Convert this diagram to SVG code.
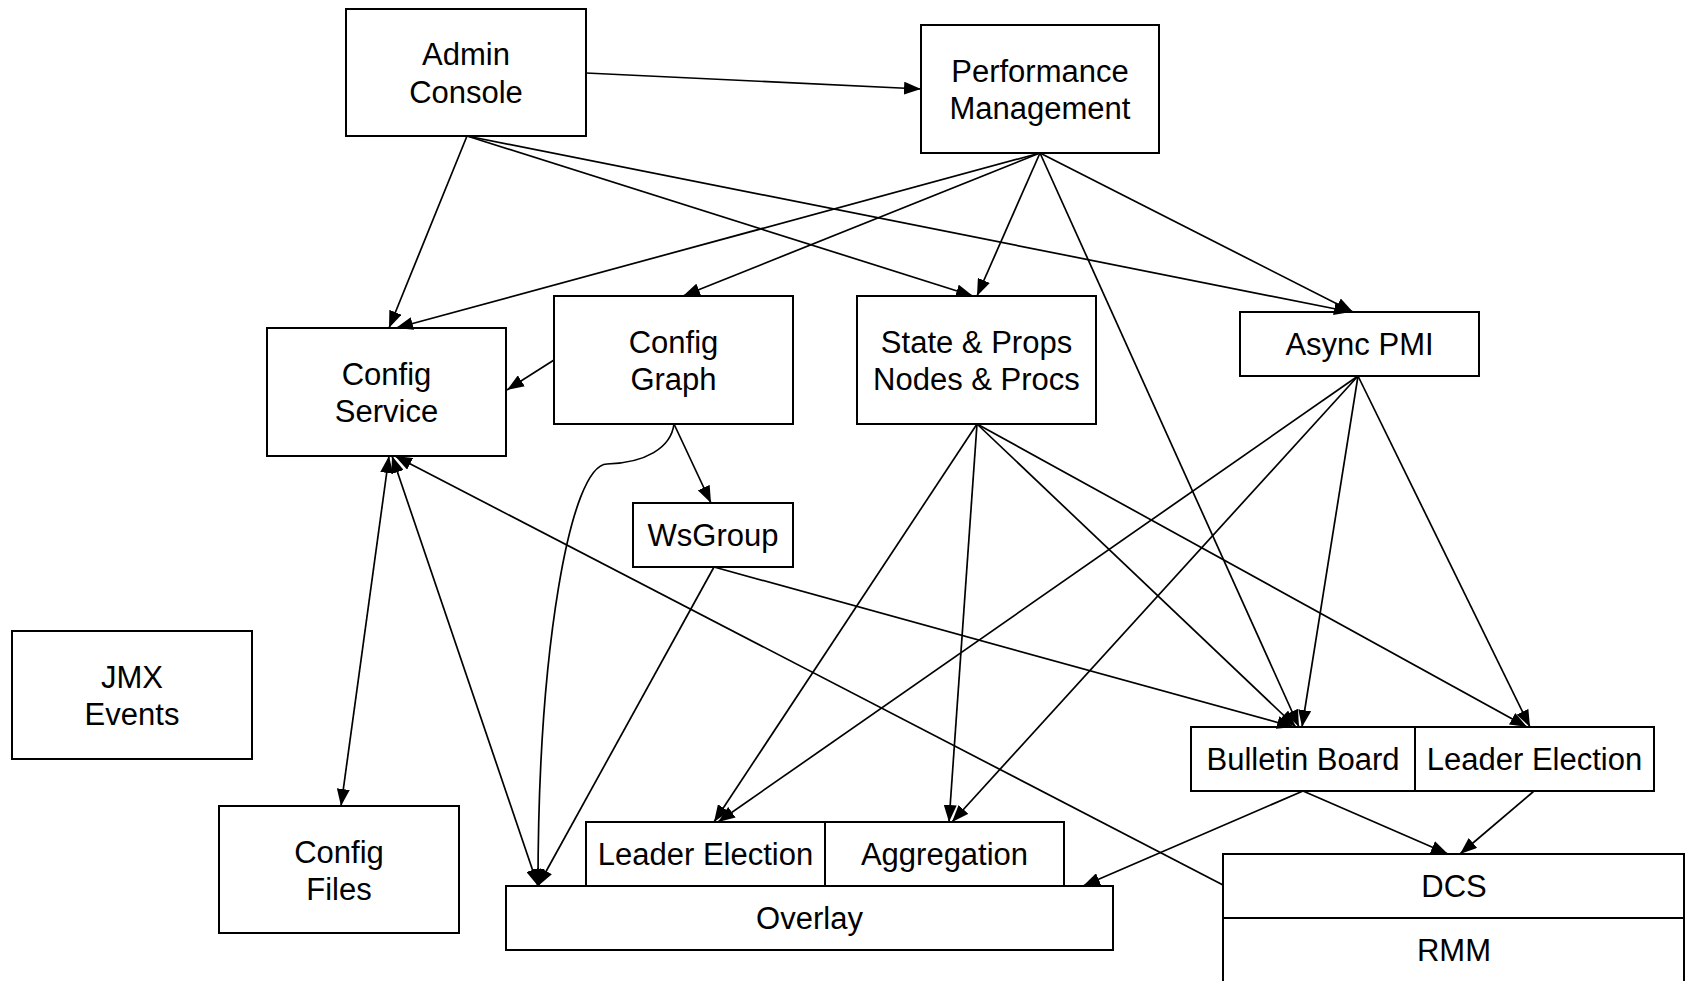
<svg xmlns="http://www.w3.org/2000/svg" width="1686" height="981" viewBox="0 0 1686 981">
  <defs>
    <marker id="arrow" viewBox="0 0 17 13" refX="17" refY="6.5" markerWidth="17" markerHeight="13" markerUnits="userSpaceOnUse" orient="auto">
      <path d="M0,0 L17,6.5 L0,13 z" fill="#000"/>
    </marker>
    <marker id="arrow-start" viewBox="0 0 17 13" refX="0" refY="6.5" markerWidth="17" markerHeight="13" markerUnits="userSpaceOnUse" orient="auto">
      <path d="M17,0 L0,6.5 L17,13 z" fill="#000"/>
    </marker>
  </defs>
  <style>
    .box { fill: #fff; stroke: #000; stroke-width: 2; }
    .lbl { font-family: "Liberation Sans", Arial, sans-serif; font-size: 31px; fill: #000; text-anchor: middle; }
    .edge { fill: none; stroke: #000; stroke-width: 1.7; marker-end: url(#arrow); }
    .both { marker-start: url(#arrow-start); }
  </style>

  <rect width="1686" height="981" fill="#fff"/>

  <!-- nodes -->
  <g id="admin-console">
    <rect class="box" x="346" y="9" width="240" height="127"/>
    <text class="lbl" x="466" y="65">Admin</text>
    <text class="lbl" x="466" y="102.5">Console</text>
  </g>
  <g id="performance-management">
    <rect class="box" x="921" y="25" width="238" height="128"/>
    <text class="lbl" x="1040" y="81.5">Performance</text>
    <text class="lbl" x="1040" y="119">Management</text>
  </g>
  <g id="config-service">
    <rect class="box" x="267" y="328" width="239" height="128"/>
    <text class="lbl" x="386.5" y="384.5">Config</text>
    <text class="lbl" x="386.5" y="422">Service</text>
  </g>
  <g id="config-graph">
    <rect class="box" x="554" y="296" width="239" height="128"/>
    <text class="lbl" x="673.5" y="352.5">Config</text>
    <text class="lbl" x="673.5" y="390">Graph</text>
  </g>
  <g id="state-props">
    <rect class="box" x="857" y="296" width="239" height="128"/>
    <text class="lbl" x="976.5" y="352.5">State &amp; Props</text>
    <text class="lbl" x="976.5" y="390">Nodes &amp; Procs</text>
  </g>
  <g id="async-pmi">
    <rect class="box" x="1240" y="312" width="239" height="64"/>
    <text class="lbl" x="1359.5" y="355">Async PMI</text>
  </g>
  <g id="wsgroup">
    <rect class="box" x="633" y="503" width="160" height="64"/>
    <text class="lbl" x="713" y="546">WsGroup</text>
  </g>
  <g id="jmx-events">
    <rect class="box" x="12" y="631" width="240" height="128"/>
    <text class="lbl" x="132" y="687.5">JMX</text>
    <text class="lbl" x="132" y="725">Events</text>
  </g>
  <g id="config-files">
    <rect class="box" x="219" y="806" width="240" height="127"/>
    <text class="lbl" x="339" y="862.5">Config</text>
    <text class="lbl" x="339" y="900">Files</text>
  </g>
  <g id="overlay-stack">
    <g id="leader-election-overlay">
      <rect class="box" x="586" y="822" width="239" height="64"/>
      <text class="lbl" x="705.5" y="865">Leader Election</text>
    </g>
    <g id="aggregation">
      <rect class="box" x="825" y="822" width="239" height="64"/>
      <text class="lbl" x="944.5" y="865">Aggregation</text>
    </g>
    <g id="overlay">
      <rect class="box" x="506" y="886" width="607" height="64"/>
      <text class="lbl" x="809.5" y="929">Overlay</text>
    </g>
  </g>
  <g id="dcs-stack">
    <g id="bulletin-board">
      <rect class="box" x="1191" y="727" width="224" height="64"/>
      <text class="lbl" x="1303" y="770">Bulletin Board</text>
    </g>
    <g id="leader-election-dcs">
      <rect class="box" x="1415" y="727" width="239" height="64"/>
      <text class="lbl" x="1534.5" y="770">Leader Election</text>
    </g>
    <g id="dcs">
      <rect class="box" x="1223" y="854" width="461" height="64"/>
      <text class="lbl" x="1454" y="897">DCS</text>
    </g>
    <g id="rmm">
      <rect class="box" x="1223" y="918" width="461" height="64"/>
      <text class="lbl" x="1454" y="961">RMM</text>
    </g>
  </g>

  <!-- connectors -->
  <g id="connectors">
    <!-- from Admin Console -->
    <line class="edge" x1="586" y1="73" x2="921" y2="89"/>
    <line class="edge" x1="467" y1="136" x2="389" y2="328"/>
    <line class="edge" x1="467" y1="136" x2="973" y2="296"/>
    <line class="edge" x1="467" y1="136" x2="1351" y2="312"/>
    <!-- from Performance Management -->
    <line class="edge" x1="1040" y1="153" x2="396" y2="328"/>
    <line class="edge" x1="1040" y1="153" x2="683" y2="296"/>
    <line class="edge" x1="1040" y1="153" x2="977" y2="296"/>
    <line class="edge" x1="1040" y1="153" x2="1299" y2="727"/>
    <line class="edge" x1="1040" y1="153" x2="1353" y2="312"/>
    <!-- from Config Graph -->
    <line class="edge" x1="554" y1="360" x2="507" y2="390"/>
    <line class="edge" x1="674" y1="424" x2="711" y2="503"/>
    <path class="edge" d="M674,424 C671,448 645,463 607,464 C570,465 538,650 538,886"/>
    <!-- from WsGroup -->
    <line class="edge" x1="714" y1="567" x2="538" y2="886"/>
    <line class="edge" x1="714" y1="567" x2="1294" y2="727"/>
    <!-- Config Service to Config Files and Overlay -->
    <line class="edge both" x1="389" y1="456" x2="341" y2="806"/>
    <line class="edge both" x1="392" y1="456" x2="538" y2="886"/>
    <line class="edge" x1="1223" y1="885" x2="395" y2="456"/>
    <!-- from State & Props -->
    <line class="edge" x1="977" y1="424" x2="714" y2="822"/>
    <line class="edge" x1="977" y1="424" x2="949" y2="822"/>
    <line class="edge" x1="977" y1="424" x2="1296" y2="727"/>
    <line class="edge" x1="977" y1="424" x2="1527" y2="727"/>
    <!-- from Async PMI -->
    <line class="edge" x1="1358" y1="376" x2="718" y2="822"/>
    <line class="edge" x1="1358" y1="376" x2="952" y2="822"/>
    <line class="edge" x1="1358" y1="376" x2="1302" y2="727"/>
    <line class="edge" x1="1358" y1="376" x2="1530" y2="727"/>
    <!-- from Bulletin Board and Leader Election -->
    <line class="edge" x1="1303" y1="791" x2="1083" y2="886"/>
    <line class="edge" x1="1303" y1="791" x2="1448" y2="854"/>
    <line class="edge" x1="1534" y1="791" x2="1460" y2="854"/>
  </g>
</svg>
